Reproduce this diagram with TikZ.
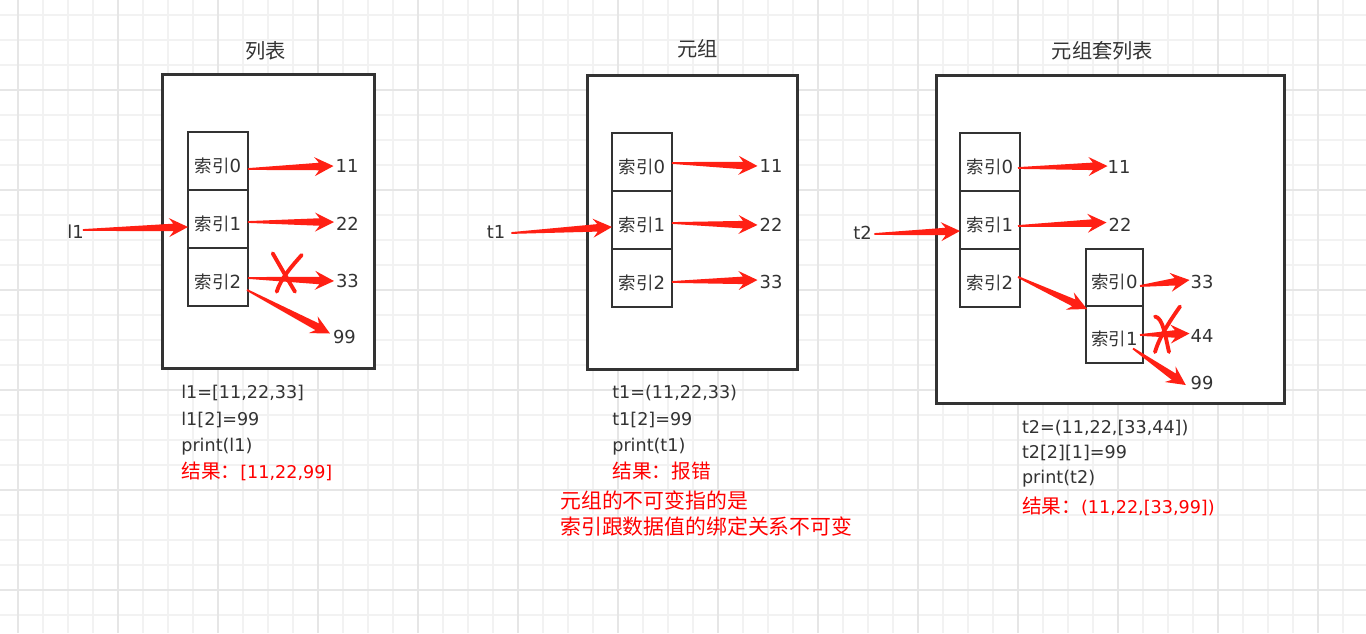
\documentclass[tikz,border=0pt]{standalone}
\usepackage{fontspec}
\setmainfont{DejaVu Sans}
\newfontfamily\cjk[Scale=1.12]{Noto Sans CJK SC}
\newfontfamily\cjkplain{Noto Sans CJK SC}
\usetikzlibrary{calc,positioning}
\definecolor{boxgray}{HTML}{333333}
\definecolor{textgray}{HTML}{333333}
\definecolor{arrowred}{HTML}{FF2014}
\definecolor{notered}{HTML}{FF0000}
\definecolor{gridminor}{HTML}{F2F2F2}
\definecolor{gridmajor}{HTML}{E6E6E6}
\newcommand\zh[1]{{\cjk #1}}
\newcommand\idx[1]{{\cjkplain 索引}{\fontsize{10.3}{11}\selectfont #1}}
% tapered red arrow: start, tip
\newcommand\redarrow[2]{%
  \coordinate (ra) at (#1);
  \coordinate (rb) at (#2);
  \coordinate (rh) at ($(rb)!0.38cm!(ra)$);
  \coordinate (rn) at ($(rb)!0.29cm!(ra)$);
  \fill[arrowred] ($(ra)!0.018cm!90:(rb)$) -- ($(rn)!0.075cm!90:(rb)$) -- ($(rh)!0.19cm!90:(rb)$) -- (rb)
    -- ($(rh)!0.19cm!-90:(rb)$) -- ($(rn)!0.075cm!-90:(rb)$) -- ($(ra)!0.018cm!-90:(rb)$) -- cycle;}
\tikzset{
  frame/.style={draw=boxgray, line width=1.7pt, fill=white, inner sep=0pt},
  cell/.style={draw=boxgray, line width=1.6pt, fill=white, minimum width=1.2cm, minimum height=1.16cm,
    inner sep=0pt, outer sep=0pt, text=textgray, font=\fontsize{9.9}{11}\selectfont, text height=1.3em, text depth=0pt},
  subcell/.style={cell, minimum width=1.14cm, minimum height=1.14cm},
  value/.style={text=textgray, font=\fontsize{10.2}{12}\selectfont, inner sep=1pt},
  title/.style={text=textgray, font=\fontsize{10.3}{12}\selectfont\cjk},
  code/.style={text=textgray, font=\fontsize{10}{12}\selectfont, anchor=base west, inner sep=0pt},
  result/.style={code, text=notered},
  note/.style={code, text=notered, font=\fontsize{10.6}{12}\selectfont\cjk},
  cross/.style={draw=arrowred, line width=2.2pt, line cap=round},
}
\begin{document}
\begin{tikzpicture}[x=0.02cm, y=-0.02cm]
\useasboundingbox (0,0) rectangle (1366,633);
\fill[white] (0,0) rectangle (1366,633);
% grid
\foreach \gx in {18,43,...,1366} \draw[gridminor, line width=0.6pt] (\gx,0) -- (\gx,633);
\foreach \gy in {15,40,...,633} \draw[gridminor, line width=0.6pt] (0,\gy) -- (1366,\gy);
\foreach \gx in {18,118,...,1366} \draw[gridmajor, line width=0.6pt] (\gx,0) -- (\gx,633);
\foreach \gy in {90,190,...,633} \draw[gridmajor, line width=0.6pt] (0,\gy) -- (1366,\gy);

% list
\node[frame, minimum width=4.26cm, minimum height=5.9cm] (list) at (268.5,221.5) {};
\node[title] (listtitle) at (265.5,51) {列表};
\node[cell] (c10) at (218,161) {\idx{0}};
\node[cell, below=0pt of c10] (c11) {\idx{1}};
\node[cell, below=0pt of c11] (c12) {\idx{2}};
\node[value] (v11) at (347,166) {11};
\node[value] (v12) at (347.5,224) {22};
\node[value] (v13) at (347.5,281) {33};
\node[value] (v14) at (344.5,336.5) {99};
\node[value] (l1) at (75.5,232) {l1};
\redarrow{$(l1.east)+(-3,-2)$}{$(c11.west)+(0,8)$}
\redarrow{$(c10.east)+(0,8)$}{v11.west}
\redarrow{$(c11.east)+(0,3)$}{$(v12.west)+(0,-2)$}
\redarrow{$(c12.east)+(0,1)$}{v13.west}
\redarrow{$(c12.east)+(-1,13)$}{$(v14.west)+(-1,-3)$}
\draw[cross] (272.7,253.3) .. controls (280,266) and (288,280) .. (295,291.7);
\draw[cross] (301.7,255) .. controls (292,266) and (281,278) .. (276.7,291.7);
\node[code] (lcode1) at (181,398) {l1=[11,22,33]};
\node[code] (lcode2) at (181,425) {l1[2]=99};
\node[code] (lcode3) at (181,451.5) {print(l1)};
\node[result] (lres) at (181,478) {\zh{结果：}[11,22,99]};

% tuple
\node[frame, minimum width=4.22cm, minimum height=5.9cm] (tuple) at (692.5,222.5) {};
\node[title] (tupletitle) at (697.5,49) {元组};
\node[cell] (c20) at (642,162) {\idx{0}};
\node[cell, below=0pt of c20] (c21) {\idx{1}};
\node[cell, below=0pt of c21] (c22) {\idx{2}};
\node[value] (v21) at (771,166) {11};
\node[value] (v22) at (771,225) {22};
\node[value] (v23) at (771,282) {33};
\node[value] (t1) at (496,232) {t1};
\redarrow{$(t1.east)+(4,1)$}{$(c21.west)+(0,7)$}
\redarrow{$(c20.east)+(0,1)$}{v21.west}
\redarrow{$(c21.east)+(0,3)$}{v22.west}
\redarrow{$(c22.east)+(0,4)$}{$(v23.west)+(0,-2)$}
\node[code] (tcode1) at (612,398) {t1=(11,22,33)};
\node[code] (tcode2) at (612,425) {t1[2]=99};
\node[code] (tcode3) at (612,451.7) {print(t1)};
\node[result] (tres) at (612,478) {\zh{结果：报错}};
\node[note] (tnote1) at (560,508) {元组的不可变指的是};
\node[note] (tnote2) at (560,534) {索引跟数据值的绑定关系不可变};

% tuple holding a list
\node[frame, minimum width=6.98cm, minimum height=6.58cm] (nested) at (1110.5,239.5) {};
\node[title] (nestedtitle) at (1102.5,51) {元组套列表};
\node[cell] (c30) at (990,162) {\idx{0}};
\node[cell, below=0pt of c30] (c31) {\idx{1}};
\node[cell, below=0pt of c31] (c32) {\idx{2}};
\node[subcell] (d0) at (1114.5,277.5) {\idx{0}};
\node[subcell, below=0pt of d0] (d1) {\idx{1}};
\node[value] (w11) at (1119,167) {11};
\node[value] (w12) at (1120,224.5) {22};
\node[value] (w13) at (1202,282) {33};
\node[value] (w14) at (1202,335.5) {44};
\node[value] (w15) at (1202,382.5) {99};
\node[value] (t2) at (862.5,232.5) {t2};
\redarrow{$(t2.east)+(0.5,1.5)$}{$(c31.west)+(0,11)$}
\redarrow{$(c30.east)+(-2,6)$}{$(w11.west)+(2,-1)$}
\redarrow{$(c31.east)+(-2,6)$}{$(w12.west)+(0,-2)$}
\redarrow{$(c32.east)+(-2,-1)$}{$(d0.south west)+(1,3)$}
\redarrow{$(d0.east)+(-3,8.5)$}{$(w13.west)+(1,-2)$}
\redarrow{$(d1.east)+(-3,0.5)$}{$(w14.west)+(1,-2)$}
\redarrow{$(d1.east)+(-10,14)$}{$(w15.west)+(-2.7,2.5)$}
\draw[cross] (1180,306.5) .. controls (1172,318) and (1160,335) .. (1155,352);
\draw[cross] (1155,316.5) .. controls (1163,318) and (1165,335) .. (1169,352);
\node[code] (ncode1) at (1021.7,433) {t2=(11,22,[33,44])};
\node[code] (ncode2) at (1021.7,458.3) {t2[2][1]=99};
\node[code] (ncode3) at (1021.7,483.3) {print(t2)};
\node[result] (nres) at (1021.7,513) {\zh{结果：}(11,22,[33,99])};
\end{tikzpicture}
\end{document}
